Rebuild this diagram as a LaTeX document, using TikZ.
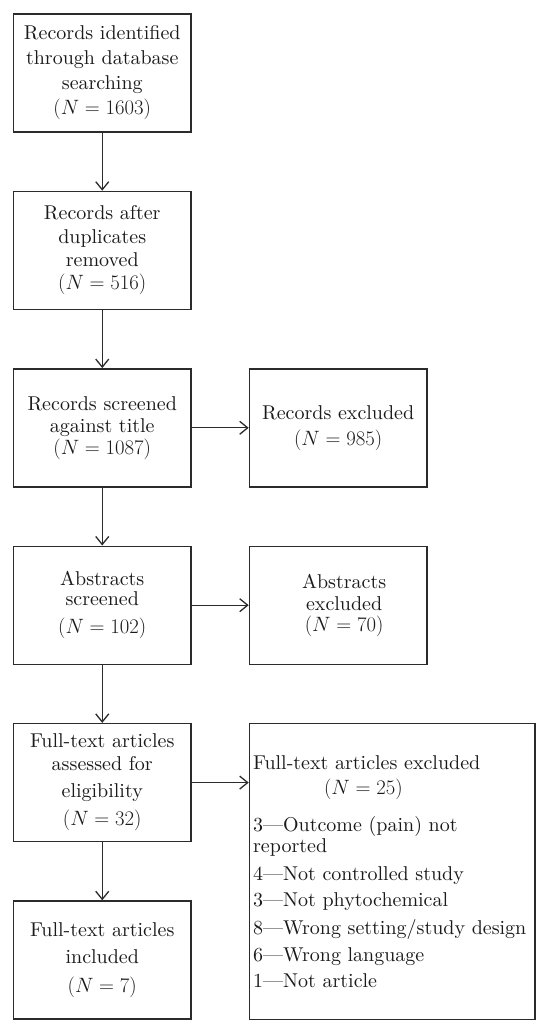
\documentclass[tikz,border=0pt]{standalone}
\usepackage{tikz}
\usetikzlibrary{positioning, arrows.meta}
\usepackage{xcolor}
\DeclareFontShape{TU}{lmr}{m}{n}{<-> "[lmroman10-regular]:mapping=tex-text"}{}
\definecolor{linegray}{HTML}{2B2B2B}
\definecolor{textblack}{HTML}{1A1A1A}

\begin{document}
\begin{tikzpicture}[x=1pt, y=-1pt, every node/.style={rectangle, draw=linegray, line width=1.4pt, inner sep=0pt, text=textblack, font=\fontsize{20}{22}\selectfont, align=center}, stage/.style={minimum width=177.5pt, minimum height=118pt}, bigbox/.style={minimum width=285.5pt, minimum height=296pt, text width=278pt, inner xsep=3.5pt, align=left}, flow/.style={draw=linegray, line width=1.3pt, -{Straight Barb[length=8pt,width=13pt]}}]
\useasboundingbox (0,0) rectangle (550,1033);
\node[stage] (search) at (102.25,73) {Records identified\\[3pt] through database\\[3pt] searching\\[3pt] $(N=1603)$};
\node[stage, below=58pt of search] (dedup) {Records after\\[2pt] duplicates\\[1pt] removed\\[1pt] $(N=516)$};
\node[stage, below=58pt of dedup] (title) {Records screened\\ against title\\ $(N=1087)$};
\node[stage, right=57pt of title] (titleout) {Records excluded\\[4pt] $(N=985)$};
\node[stage, below=58pt of title] (abstracts) {Abstracts\\[-2pt] screened\\[6pt] $(N=102)$};
\node[stage, right=57pt of abstracts] (abstractsout) {\hspace*{12pt}Abstracts\\ \hspace*{12pt}excluded\\[-1pt] \hspace*{12pt}$(N=70)$};
\node[stage, below=58pt of abstracts] (fulltext) {Full-text articles\\[1pt] assessed for\\[5pt] eligibility\\[6pt] $(N=32)$};
\node[bigbox, right=57pt of fulltext.north east, anchor=north west] (fulltextout) {Full-text articles excluded\\[3pt]
\hspace*{71pt}$(N=25)$\\[15pt]
3—Outcome (pain) not\\[-1pt]
reported\\[6pt]
4—Not controlled study\\[4pt]
3—Not phytochemical\\[6pt]
8—Wrong setting/study design\\[5pt]
6—Wrong language\\[4pt]
1—Not article};
\node[stage, below=58pt of fulltext] (included) {Full-text articles\\[5pt] included\\[7pt] $(N=7)$};

\draw[flow] (search) -- (dedup);
\draw[flow] (dedup) -- (title);
\draw[flow] (title) -- (abstracts);
\draw[flow] (abstracts) -- (fulltext);
\draw[flow] (fulltext) -- (included);
\draw[flow] (title) -- (titleout);
\draw[flow] (abstracts) -- (abstractsout);
\draw[flow] (fulltext.east) -- (fulltext.east -| fulltextout.west);
\end{tikzpicture}
\end{document}
